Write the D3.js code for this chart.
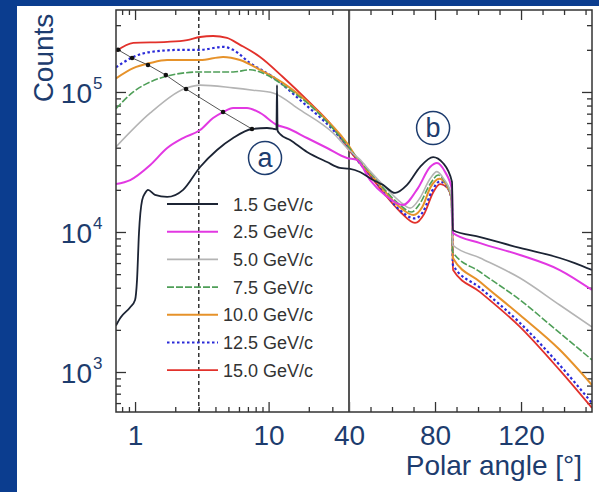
<!DOCTYPE html>
<html><head><meta charset="utf-8">
<script src="https://cdn.jsdelivr.net/npm/d3@7"></script>
<style>
html,body{margin:0;padding:0;background:#fff;}
svg{display:block;font-family:"Liberation Sans",Arial,sans-serif;}
</style></head><body>
<svg id="chart" width="599" height="492"></svg>
<script>
// Beam momenta shown in the legend
const momenta = ["1.5 GeV/c","2.5 GeV/c","5.0 GeV/c","7.5 GeV/c","10.0 GeV/c","12.5 GeV/c","15.0 GeV/c"];

// Polar angle [deg] and counts for each momentum
const angle15 = [0.72,0.78,0.92,1.0,1.035,1.07,1.13,1.19,1.25,1.41,1.74,2.29,3.07,4.11,5.42,7.51,9.73,11.0,11.45,11.56,11.67,12.2,14.5,19.4,27.4,34.2,40,45.1,51.2,55.8,61.4,67,73,79.1,83.7,87.9,88.3,101,119.5,138,145,153];
const counts15 = [2150,2450,2900,3270,4570,9840,16900,19000,20000,18400,17800,20000,29100,38500,46900,54400,55300,54400,54000,112000,53000,50000,45400,37300,31600,28700,28300,26800,23500,21700,19000,21700,29100,34300,31100,22800,10300,9200,7690,6520,6000,5350];

const angle25 = [0.72,0.92,1.3,1.74,2.29,3.07,3.84,4.56,5.42,6.89,8.63,11.56,13.7,19.4,27.4,38.6,43.7,49.8,56.7,65.1,72,77.7,80.9,84.7,87.9,88.3,101,119.5,138,153];
const counts25 = [22000,23500,30100,39800,46900,53500,65200,71900,76900,76900,70800,58100,55300,46900,39800,33800,32700,23500,18400,15600,20500,29100,31100,26800,20000,9840,8330,6850,5350,3850];

const angle50 = [0.72,1.3,2.45,3.07,5.42,7.64,10.8,17.2,30.4,40,45,50,56.7,63.7,68.4,73,77.7,80.9,84,87.5,88.2,101,119.5,138,153];
const counts50 = [40500,70800,107000,112000,107000,103000,98400,74400,50900,38500,33000,27000,21000,16500,14800,17500,24000,27000,24000,18500,8070,6520,4690,3010,2100];

const angle75 = [0.72,0.97,1.3,1.74,3.07,5.42,7.26,9.73,12.8,21.5,38.6,45,50,56.7,63.7,69,73,77.7,81.5,84.5,87.5,88.2,101,119.5,138,153];
const counts75 = [76000,100000,118000,130000,139000,139000,144000,132000,112000,76900,41800,32000,26500,20000,15600,13900,16000,22000,25500,23000,18000,7200,5180,3270,1900,1220];

const angle100 = [0.72,0.97,1.3,1.74,3.07,4.56,6.11,8.63,12.8,21.5,38.6,45,50,56.7,63.7,70,74,78,82,85,87.7,88.3,101,119.5,138,153];
const counts100 = [125000,148000,161000,169000,169000,178000,169000,144000,116000,78200,43200,31500,26000,19500,15000,13200,15000,21000,24000,22000,17500,6520,4400,2550,1440,807];

const angle125 = [0.72,0.97,1.3,2.29,3.07,4.56,5.42,7.26,10.8,17.2,30.4,40,45,50,56.7,63.7,70.5,74.5,78.5,82.3,85.5,87.8,88.3,101,119.5,138,153];
const counts125 = [150000,178000,193000,200000,200000,210000,200000,161000,128000,87700,53500,39800,31000,25500,19000,14300,12500,14000,19500,23000,21000,17000,5810,3990,2240,1120,600];

const angle150 = [0.72,0.97,1.74,2.45,3.07,3.84,4.88,6.11,8.63,12.8,19.4,30.4,40,45,50,56.7,63.7,70.7,75,79,82.3,86,87.8,88.4,101,119.5,138,153];
const counts150 = [195000,224000,228000,235000,247000,251000,243000,217000,178000,128000,87700,56200,38500,31000,25000,18500,14000,11600,13500,19000,22000,20500,16500,5350,3720,2100,1030,553];

// Maxima of the forward peak, one per momentum
const peakAngle = [0.746,0.95,1.25,1.7,2.41,4.56,7.51];
const peakCounts = [200000,175000,156000,132000,105000,71900,54400];

// Axis ticks
const xLogMajor = [1,10,40];
const xLogMinor = [0.8,0.9,2,3,4,5,6,7,8,9,20,30];
const xLinMajor = [80,120];
const xLinMinor = [50,60,70,90,100,110,130,140,150];
const yMajor = [1e3,1e4,1e5];
const yMinor = [600,700,800,900,2000,3000,4000,5000,6000,7000,8000,9000,20000,30000,40000,50000,60000,70000,80000,90000,200000,300000];

// Reference lines
const dashedAngle = 3;
const breakAngle = 40;

const series = [
  {name: momenta[6], a: angle150, c: counts150, color: "#e2312b", w: 1.8, dash: null},
  {name: momenta[5], a: angle125, c: counts125, color: "#2a2ad8", w: 2.2, dash: "2.5,2.5"},
  {name: momenta[4], a: angle100, c: counts100, color: "#e6922a", w: 2, dash: null},
  {name: momenta[3], a: angle75, c: counts75, color: "#4f9f58", w: 1.6, dash: "7,2"},
  {name: momenta[2], a: angle50, c: counts50, color: "#b4b4b4", w: 1.6, dash: null},
  {name: momenta[1], a: angle25, c: counts25, color: "#e238e2", w: 2, dash: null},
  {name: momenta[0], a: angle15, c: counts15, color: "#1c2434", w: 1.8, dash: null}
];

const W = 599, H = 492;
const plot = {left: 116, right: 592, top: 10, bottom: 412};
const xBreak = 349;
const ink = "#1d3c6e";

const svg = d3.select("#chart");
svg.append("rect").attr("width", W).attr("height", H).attr("fill", "#fff");
svg.append("rect").attr("x", 0).attr("y", 0).attr("width", W).attr("height", 6).attr("fill", "#0b3d8f");
svg.append("rect").attr("x", 0).attr("y", 0).attr("width", 17).attr("height", H).attr("fill", "#0b3d8f");

// Log scale below 40 deg, linear above
const xLog = d3.scaleLog().domain([0.72, breakAngle]).range([plot.left, xBreak]);
const xLin = d3.scaleLinear().domain([breakAngle, 153]).range([xBreak, plot.right]);
const x = v => v <= breakAngle ? xLog(v) : xLin(v);
const y = d3.scaleLog().domain([518, 385000]).range([plot.bottom, plot.top]);

function styleAxis(g) {
  g.select(".domain").remove();
  g.selectAll(".tick line").attr("stroke", "#333").attr("stroke-width", 1.3);
  g.selectAll(".tick text").attr("fill", ink).attr("font-size", 28)
    .attr("font-family", '"Liberation Sans",Arial,sans-serif');
}

function xAxes(gen, pos, withLabels) {
  [[xLog, xLogMajor, xLogMinor], [xLin, xLinMajor, xLinMinor]].forEach(([sc, maj, min]) => {
    svg.append("g").attr("transform", `translate(0,${pos})`)
      .call(gen(sc).tickValues(maj).tickSize(-10).tickPadding(13)
        .tickFormat(withLabels ? d3.format("d") : () => ""))
      .call(styleAxis);
    svg.append("g").attr("transform", `translate(0,${pos})`)
      .call(gen(sc).tickValues(min).tickSize(-5).tickFormat(() => ""))
      .call(styleAxis);
  });
}
xAxes(d3.axisBottom, plot.bottom, true);
xAxes(d3.axisTop, plot.top, false);

[[d3.axisLeft, plot.left], [d3.axisRight, plot.right]].forEach(([gen, pos]) => {
  svg.append("g").attr("transform", `translate(${pos},0)`)
    .call(gen(y).tickValues(yMajor).tickSize(-10).tickFormat(() => "")).call(styleAxis);
  svg.append("g").attr("transform", `translate(${pos},0)`)
    .call(gen(y).tickValues(yMinor).tickSize(-5).tickFormat(() => "")).call(styleAxis);
});

// Power-of-ten labels on the count axis
const yl = svg.append("g").attr("fill", ink);
yMajor.forEach(v => {
  yl.append("text").attr("x", 92).attr("y", y(v) + 11).attr("text-anchor", "end")
    .attr("font-size", 28).text("10");
  yl.append("text").attr("x", 93).attr("y", y(v) - 3).attr("font-size", 17)
    .text(Math.round(Math.log10(v)));
});

// Curves
svg.append("clipPath").attr("id", "clip").append("rect")
  .attr("x", plot.left).attr("y", plot.top)
  .attr("width", plot.right - plot.left).attr("height", plot.bottom - plot.top);

const line = d3.line().x(d => x(d[0])).y(d => y(d[1])).curve(d3.curveMonotoneX);
const curves = svg.append("g").attr("clip-path", "url(#clip)");

// Vertical guides
curves.append("line").attr("x1", x(dashedAngle)).attr("x2", x(dashedAngle))
  .attr("y1", plot.top).attr("y2", plot.bottom)
  .attr("stroke", "#333").attr("stroke-width", 1.5).attr("stroke-dasharray", "4,3");
curves.append("line").attr("x1", x(breakAngle)).attr("x2", x(breakAngle))
  .attr("y1", plot.top).attr("y2", plot.bottom)
  .attr("stroke", "#555").attr("stroke-width", 2);

series.forEach(s => {
  curves.append("path").datum(s.a.map((a, i) => [a, s.c[i]]))
    .attr("fill", "none").attr("stroke", s.color).attr("stroke-width", s.w)
    .attr("stroke-dasharray", s.dash).attr("stroke-linejoin", "round")
    .attr("d", line);
});

// Peak trajectory with markers
const peaks = peakAngle.map((a, i) => [a, peakCounts[i]]);
curves.append("path").datum(peaks).attr("fill", "none").attr("stroke", "#555")
  .attr("stroke-width", 1).attr("d", d3.line().x(d => x(d[0])).y(d => y(d[1])));
curves.selectAll("circle.pk").data(peaks).join("circle").attr("class", "pk")
  .attr("cx", d => x(d[0])).attr("cy", d => y(d[1])).attr("r", 2.3).attr("fill", "#111");

// Frame
svg.append("rect").attr("x", plot.left).attr("y", plot.top)
  .attr("width", plot.right - plot.left).attr("height", plot.bottom - plot.top)
  .attr("fill", "none").attr("stroke", "#333").attr("stroke-width", 1.5);

// Legend
const legendOrder = series.slice().reverse();
const lg = svg.append("g");
legendOrder.forEach((s, i) => {
  const ly = 204 + i * 27.7;
  lg.append("line").attr("x1", 167).attr("x2", 218).attr("y1", ly).attr("y2", ly)
    .attr("stroke", s.color).attr("stroke-width", s.w).attr("stroke-dasharray", s.dash);
  lg.append("text").attr("x", 313).attr("y", ly + 6.5).attr("text-anchor", "end")
    .attr("font-size", 18).attr("fill", "#333").text(s.name);
});

// Region markers
const marks = [{t: "a", a: 9.4, c: 33800}, {t: "b", a: 79.1, c: 55300}];
marks.forEach(m => {
  const g = svg.append("g").attr("transform", `translate(${x(m.a)},${y(m.c)})`);
  g.append("circle").attr("r", 16.5).attr("fill", "#fff").attr("stroke", ink).attr("stroke-width", 1.5);
  g.append("text").attr("text-anchor", "middle").attr("y", 9).attr("font-size", 27)
    .attr("fill", ink).text(m.t);
});

// Axis titles
svg.append("text").attr("transform", "translate(53,58) rotate(-90)")
  .attr("text-anchor", "middle").attr("font-size", 28).attr("fill", ink).text("Counts");
svg.append("text").attr("x", 582).attr("y", 475).attr("text-anchor", "end")
  .attr("font-size", 28).attr("fill", ink).text("Polar angle [°]");
</script></body></html>
